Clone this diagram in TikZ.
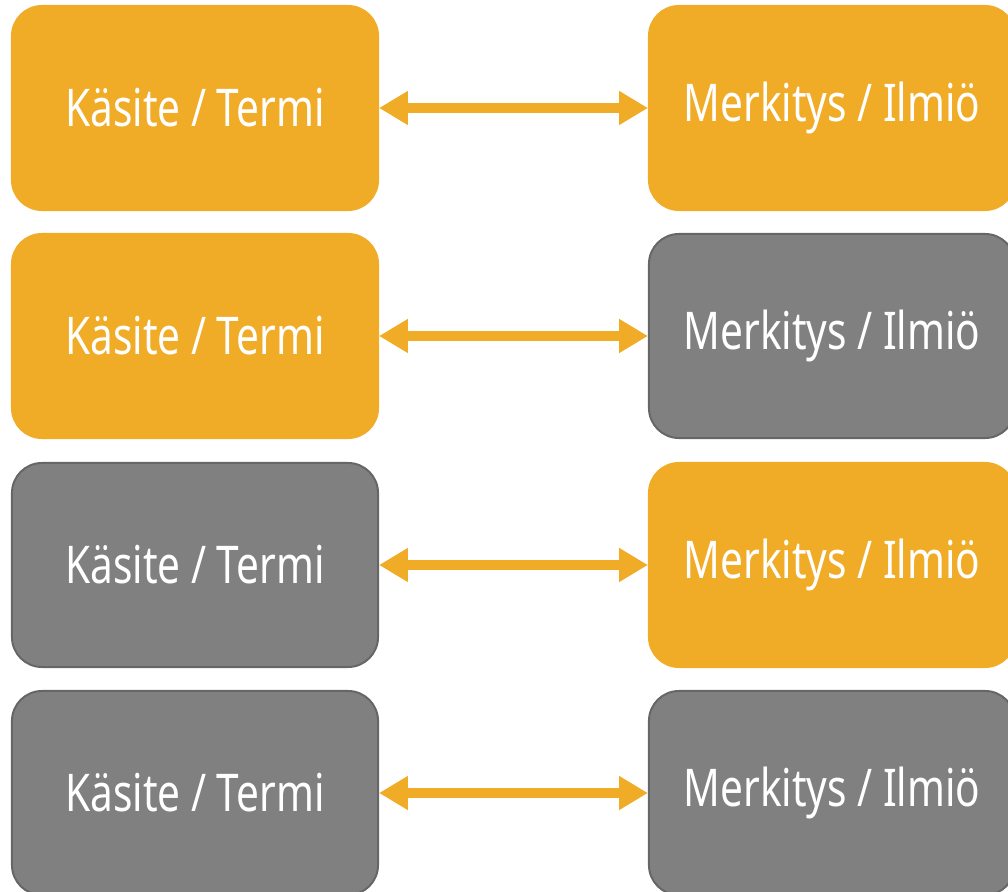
\documentclass[tikz,border=0pt]{standalone}
\usepackage{fontspec}
\setmainfont[FakeStretch=0.78]{Noto Sans}
\usepackage{tikz}
\usetikzlibrary{arrows.meta, positioning}
\definecolor{oranssi}{HTML}{F0AB27}
\definecolor{harmaa}{HTML}{808080}
\definecolor{reuna}{HTML}{666666}

\begin{document}
\begin{tikzpicture}[x=0.025cm, y=-0.025cm,
	box/.style={rounded corners=0.75cm, minimum width=9.15cm, minimum height=5.1cm, inner sep=0pt, text=white, font=\fontsize{37}{40}\selectfont, line width=1.4pt},
	kelta/.style={box, fill=oranssi, draw=oranssi},
	harma/.style={box, fill=harmaa, draw=reuna},
	kaksi/.style={draw=oranssi, line width=0.25cm, {Triangle[length=0.72cm, width=0.8cm]}-{Triangle[length=0.72cm, width=0.8cm]}}]
		\useasboundingbox (0,0) rectangle (1008,892);
		\node[kelta] (k1) at (195,108) {\raisebox{-3pt}{Käsite / Termi}};
		\node[kelta] (m1) at (832,108) {\raisebox{-3pt}{Merkitys / Ilmiö}};
		\node[kelta] (k2) at (195,336) {\raisebox{-3pt}{Käsite / Termi}};
		\node[harma] (m2) at (832,336) {\raisebox{-3pt}{Merkitys / Ilmiö}};
		\node[harma] (k3) at (195,565) {\raisebox{-3pt}{Käsite / Termi}};
		\node[kelta] (m3) at (832,565) {\raisebox{-3pt}{Merkitys / Ilmiö}};
		\node[harma] (k4) at (195,793) {\raisebox{-3pt}{Käsite / Termi}};
		\node[harma] (m4) at (832,793) {\raisebox{-3pt}{Merkitys / Ilmiö}};
		
		\draw[kaksi] (k1) -- (m1);
		\draw[kaksi] (k2) -- (m2);
		\draw[kaksi] (k3) -- (m3);
		\draw[kaksi] (k4) -- (m4);
		
	\end{tikzpicture}
\end{document}
